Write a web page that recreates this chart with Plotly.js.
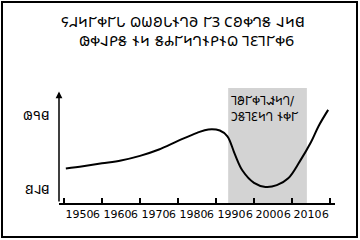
<!DOCTYPE html>
<html><head><meta charset="utf-8">
<script src="https://cdn.plot.ly/plotly-3.0.1.min.js"></script>
<style>body{margin:0;background:#fff}#wrap{position:relative;width:360px;height:240px}#frame{position:absolute;left:1px;top:1px;width:357px;height:237px;border:2px solid #000;box-sizing:border-box;pointer-events:none}</style>
</head><body><div id="wrap"><div id="chart"></div><div id="frame"></div></div>
<script>
// Text (Deseret script)
const titleLine1 = "\u{10416}\u{10407}\u{10424}\u{1040A}\u{10421}\u{1040A}\u{10422} \u{10417}\u{1040E}\u{10402}\u{10422}\u{10406}\u{10413}\u{10400} \u{1040A}\u{1041A} \u{10415}\u{10402}\u{10421}\u{10413}\u{1041D} \u{10408}\u{10424}\u{10414}";
const titleLine2 = "\u{10418}\u{10421}\u{10408}\u{10419}\u{1041D} \u{10406}\u{10424} \u{1041D}\u{1040C}\u{1040A}\u{10424}\u{10413}\u{10406}\u{10419}\u{10406}\u{10417} \u{10411}\u{10401}\u{10411}\u{1040A}\u{10421}\u{1041E}";
const eraLabel = ["\u{10411}\u{1040D}\u{1040A}\u{10421}\u{10411}\u{10426}\u{10424}\u{10413}/", "\u{10423}\u{1041D}\u{10411}\u{10401}\u{10424}\u{10413} \u{10406}\u{10421}\u{1040A}"];
const yLabels = ["\u{10418}\u{1040B}\u{10414}", "\u{10412}\u{10408}\u{10414}"];
const yLabelValues = [76.5, 12.2];

// Decades
const decadeLabels = ["1950\u{1041E}","1960\u{1041E}","1970\u{1041E}","1980\u{1041E}","1990\u{1041E}","2000\u{1041E}","2010\u{1041E}"];
const decadeMids = [1955,1965,1975,1985,1995,2005,2015];
const decadeEdges = [1950,1960,1970,1980,1990,2000,2010,2020];

// Curve
const years   = [1950.5,1955,1960,1965,1970,1975,1980,1985,1988,1991,1993,1995,1997,2000,2003,2006,2009,2012,2015,2017,2019.5];
const quality = [30,32,34.5,37,41,46.5,54,61,64,63,58,42,28,17.5,14,15.5,21.5,36,53,67,81];

// Shaded era
const eraStart = 1993.2, eraEnd = 2013.9;

const xRange = [1948.7, 2021.3];
const yRange = [0, 100];

const traces = [{
  x: years, y: quality, type: 'scatter', mode: 'lines',
  line: {color: '#000', width: 2, shape: 'spline', smoothing: 1},
  hoverinfo: 'skip'
}, {
  x: xRange, y: [null, null], xaxis: 'x2', yaxis: 'y', type: 'scatter', mode: 'lines', hoverinfo: 'skip'
}];

const layout = {
  width: 360, height: 240,
  margin: {l: 59, r: 25, t: 88, b: 37, pad: 0},
  paper_bgcolor: '#fff', plot_bgcolor: 'rgba(0,0,0,0)',
  showlegend: false,
  font: {family: 'DejaVu Sans', color: '#000'},
  xaxis: {
    range: xRange, tickvals: decadeEdges, ticks: 'inside', ticklen: 5, tickwidth: 1.5, tickcolor: '#000',
    showticklabels: false,
    showgrid: false, zeroline: false, showline: true, linecolor: '#000', linewidth: 1.5, fixedrange: true
  },
  xaxis2: {
    overlaying: 'x', matches: 'x', anchor: 'y', side: 'bottom',
    tickvals: decadeMids, ticktext: decadeLabels, ticks: '', tickangle: 0,
    tickfont: {size: 11, color: '#000'}, ticklabelstandoff: 3,
    showgrid: false, zeroline: false, showline: false
  },
  yaxis: {
    range: yRange, tickvals: yLabelValues, ticktext: yLabels, ticks: '',
    showgrid: false, zeroline: false, showline: false,
    tickfont: {size: 13, color: '#000'}, ticklabelstandoff: 8, fixedrange: true
  },
  shapes: [{
    type: 'rect', xref: 'x', yref: 'y', x0: eraStart, x1: eraEnd, y0: yRange[0], y1: yRange[1],
    fillcolor: '#d3d3d3', line: {width: 0}, layer: 'below'
  }],
  annotations: [{
    xref: 'paper', yref: 'paper', x: 0.449, y: 1.574, xanchor: 'center', yanchor: 'middle',
    text: titleLine1, showarrow: false, font: {size: 15, color: '#000'}
  }, {
    xref: 'paper', yref: 'paper', x: 0.463, y: 1.409, xanchor: 'center', yanchor: 'middle',
    text: titleLine2, showarrow: false, font: {size: 15, color: '#000'}
  }, {
    xref: 'x', yref: 'y', x: eraStart + 0.2, y: 82, xanchor: 'left', yanchor: 'middle', align: 'left',
    text: eraLabel.join('<br>'), showarrow: false, font: {size: 12, color: '#000'}
  }, {
    xref: 'x', yref: 'y', axref: 'x', ayref: 'y', x: xRange[0], y: 97, ax: xRange[0], ay: yRange[0],
    text: '', showarrow: true, arrowhead: 2, arrowsize: 0.9, arrowwidth: 1.5, arrowcolor: '#000'
  }]
};

Plotly.newPlot('chart', traces, layout, {staticPlot: true, displayModeBar: false});
</script></body></html>
